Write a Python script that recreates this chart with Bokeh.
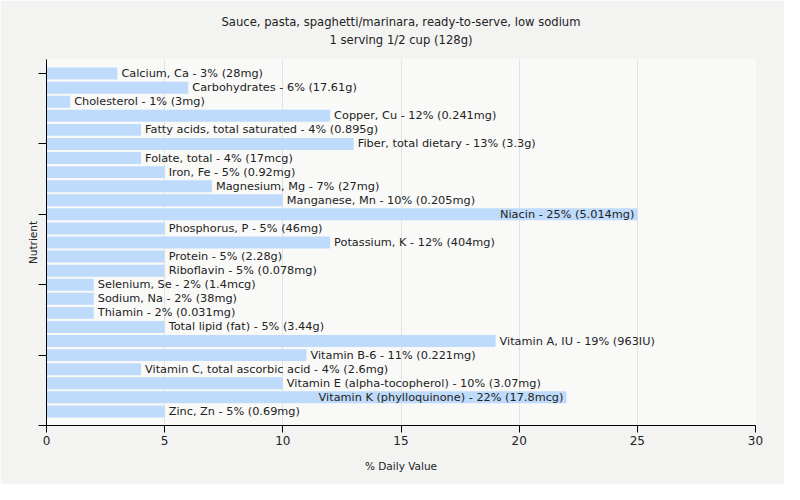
from bokeh.plotting import figure
from bokeh.models import ColumnDataSource, FixedTicker, Range1d, Title
from bokeh.embed import file_html
from bokeh.resources import INLINE
from bokeh.core.properties import value

nutrients = ["Calcium, Ca", "Carbohydrates", "Cholesterol", "Copper, Cu",
             "Fatty acids, total saturated", "Fiber, total dietary", "Folate, total",
             "Iron, Fe", "Magnesium, Mg", "Manganese, Mn", "Niacin", "Phosphorus, P",
             "Potassium, K", "Protein", "Riboflavin", "Selenium, Se", "Sodium, Na",
             "Thiamin", "Total lipid (fat)", "Vitamin A, IU", "Vitamin B-6",
             "Vitamin C, total ascorbic acid", "Vitamin E (alpha-tocopherol)",
             "Vitamin K (phylloquinone)", "Zinc, Zn"]
percents = [3, 6, 1, 12, 4, 13, 4, 5, 7, 10, 25, 5, 12, 5, 5, 2, 2, 2, 5, 19, 11, 4, 10, 22, 5]
amounts = ["28mg", "17.61g", "3mg", "0.241mg", "0.895g", "3.3g", "17mcg", "0.92mg",
           "27mg", "0.205mg", "5.014mg", "46mg", "404mg", "2.28g", "0.078mg", "1.4mcg",
           "38mg", "0.031mg", "3.44g", "963IU", "0.221mg", "2.6mg", "3.07mg", "17.8mcg",
           "0.69mg"]
x_ticks = [0, 5, 10, 15, 20, 25, 30]
title_lines = ["Sauce, pasta, spaghetti/marinara, ready-to-serve, low sodium",
               "1 serving 1/2 cup (128g)"]

idx = list(range(len(nutrients)))
labels = [f"{n} - {p}% ({a})" for n, p, a in zip(nutrients, percents, amounts)]
inside = [p >= 20 for p in percents]

src_out = ColumnDataSource(dict(y=[i for i, f in zip(idx, inside) if not f],
                                x=[p for p, f in zip(percents, inside) if not f],
                                t=[l for l, f in zip(labels, inside) if not f]))
src_in = ColumnDataSource(dict(y=[i for i, f in zip(idx, inside) if f],
                               x=[p for p, f in zip(percents, inside) if f],
                               t=[l for l, f in zip(labels, inside) if f]))
bars = ColumnDataSource(dict(y=idx, x=percents))

FONT = "DejaVu Sans"

p = figure(width=784, height=484, output_backend="svg", toolbar_location=None,
           x_range=Range1d(0, 30), y_range=Range1d(25, -1),
           min_border_left=46, min_border_right=29, min_border_bottom=59, min_border_top=56)
p.title = None
t = Title(text="\n".join(title_lines), align="center", text_font=FONT,
          text_font_size="11.6px", text_font_style="normal", text_color="#222222",
          text_line_height=1.3, standoff=25)
t.text_align = "center"
p.add_layout(t, "above")

p.background_fill_color = "#f9f9f8"
p.border_fill_color = "#f3f3f2"
p.outline_line_color = None

p.hbar(y="y", right="x", left=0, height=0.85, source=bars, color="#bfdbfb", line_color=None)

p.text(x="x", y="y", text="t", source=src_out, x_offset=4, text_align="left",
       text_baseline="middle", text_font=value(FONT), text_font_size="11.3px", text_color="#222222")
p.text(x="x", y="y", text="t", source=src_in, x_offset=-3, text_align="right",
       text_baseline="middle", text_font=value(FONT), text_font_size="11.3px", text_color="#222222")

p.xaxis.ticker = FixedTicker(ticks=x_ticks)
p.yaxis.ticker = FixedTicker(ticks=[0, 5, 10, 15, 20, 25])
p.yaxis.major_label_overrides = {i: "" for i in [0, 5, 10, 15, 20, 25]}
p.xaxis.axis_label = "% Daily Value"
p.yaxis.axis_label = "Nutrient"
for ax in (p.xaxis[0], p.yaxis[0]):
    ax.axis_line_color = "#000000"
    ax.major_tick_line_color = "#000000"
    ax.minor_tick_line_color = None
    ax.major_tick_in = 0
    ax.major_tick_out = 8
    ax.axis_label_text_font = FONT
    ax.axis_label_text_font_size = "10.5px"
    ax.axis_label_text_font_style = "normal"
    ax.axis_label_text_color = "#222222"
    ax.major_label_text_font = FONT
    ax.major_label_text_font_size = "12px"
    ax.major_label_text_color = "#222222"
p.xaxis.major_tick_out = 7
p.xaxis.major_label_standoff = 3
p.xaxis.axis_label_standoff = 12
p.yaxis.major_label_standoff = 0
p.yaxis.axis_label_standoff = 0

p.xgrid.grid_line_color = "#e2e2e2"
p.ygrid.grid_line_color = None

open("out.html", "w").write(file_html(p, INLINE))
